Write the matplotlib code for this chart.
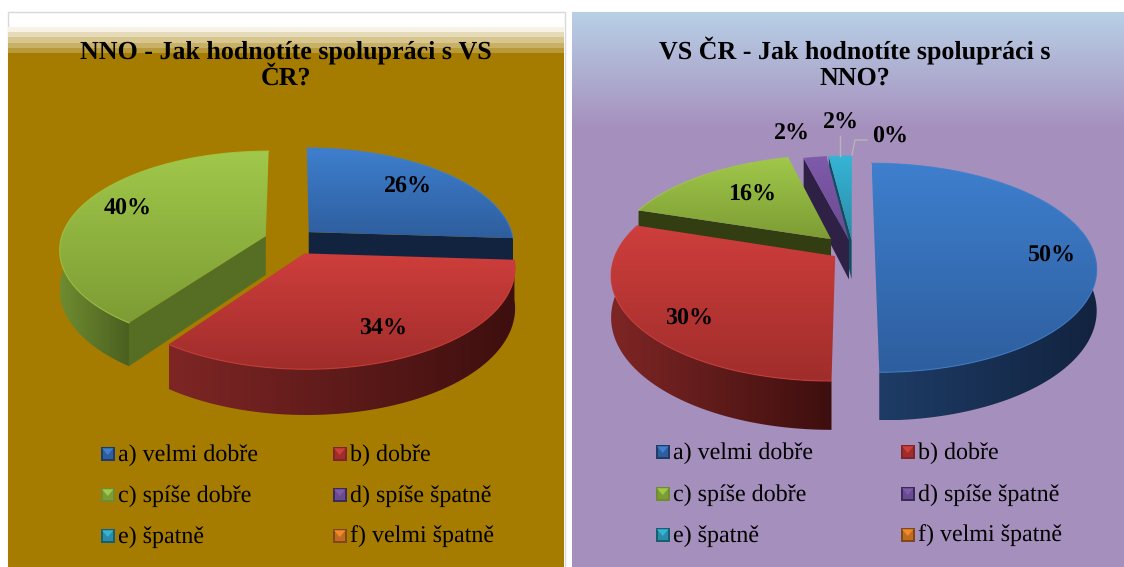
import numpy as np
import matplotlib
matplotlib.use("Agg")
from matplotlib import pyplot as plt
from matplotlib.colors import to_rgb
from matplotlib.patches import Polygon, Rectangle

plt.rcParams['font.family'] = ['Liberation Serif', 'DejaVu Serif']
plt.rcParams['text.hinting'] = 'none'
plt.rcParams['text.hinting_factor'] = 1

categories = ['a) velmi dobře', 'b) dobře', 'c) spíše dobře', 'd) spíše špatně', 'e) špatně', 'f) velmi špatně']
values_nno = [26, 34, 40, 0, 0, 0]
values_vs = [50, 30, 16, 2, 2, 0]
title_nno = 'NNO - Jak hodnotíte spolupráci s VS\nČR?'
title_vs = 'VS ČR - Jak hodnotíte spolupráci s\nNNO?'

top_light = ['#3E7FCE', '#CE3E3C', '#A0C84A', '#7F5AAB', '#36B4D6', '#F08A2C']
top_dark = ['#2E5E9E', '#A02D2B', '#7D9C34', '#6A4A90', '#2A8CA8', '#C06C20']
wall_left = ['#1E3C66', '#7E2625', '#6F8C30', '#3A2A58', '#175E70', '#80481A']
wall_right = ['#12233F', '#3D0F0E', '#4A5F20', '#2A1E40', '#0F4A58', '#5A3010']
wall_cut = ['#12233F', '#3D0F0E', '#566E24', '#2E2145', '#0F4F5F', '#5A3010']
wall_cut_vs = ['#12233F', '#3D0F0E', '#333D12', '#2E2145', '#0F4F5F', '#5A3010']

gold = '#A67C00'
stripes = ['#F6F2E6', '#E5DBB8', '#D7C68F', '#C8B064', '#B99A3A']

fig = plt.figure(figsize=(11.24, 5.67), dpi=100, facecolor='white')
ax = fig.add_axes([0, 0, 1, 1])
ax.axis('off')


def project(u, v, z, cfg):
    w = 1 + cfg['p'] * v
    return cfg['cx'] + cfg['A'] * u / w, cfg['cy'] - cfg['B'] * v / w + cfg['D'] * z / w


def gradient_fill(pts, c1, c2, zorder, horizontal=False):
    x0, y0 = pts.min(axis=0)
    x1, y1 = pts.max(axis=0)
    t = np.linspace(0, 1, 128)
    col = np.outer(1 - t, to_rgb(c1)) + np.outer(t, to_rgb(c2))
    img = col[None, :, :] if horizontal else col[:, None, :]
    poly = Polygon(pts, closed=True, fc='none', ec='none', transform=ax.transData)
    ax.add_patch(poly)
    im = ax.imshow(img, extent=(x0, x1, y1, y0), aspect='auto', zorder=zorder, interpolation='bilinear')
    im.set_clip_path(poly)


def draw_pie(values, cfg, cut_cols):
    total = sum(values)
    starts = np.cumsum([0] + values[:-1]) / total * 2 * np.pi
    spans = np.array(values) / total * 2 * np.pi
    mids = starts + spans / 2
    # back wedges first
    order = sorted(range(len(values)), key=lambda i: -np.cos(mids[i]))
    z = 5
    for i in order:
        if values[i] == 0:
            continue
        t = np.linspace(starts[i], starts[i] + spans[i], 120)
        ex = cfg['explode'][i]
        ou, ov = ex * np.sin(mids[i]), ex * np.cos(mids[i])
        ax_x, ax_y = project(ou, ov, 0, cfg)
        bx, by = project(ou, ov, 1, cfg)
        u, v = ou + np.sin(t), ov + np.cos(t)
        tx, ty = project(u, v, 0, cfg)
        dx, dy = project(u, v, 1, cfg)
        # outer wall, front part of the arc only
        front = np.cos(t) < 0.2
        if front.sum() > 1:
            wall = np.column_stack([np.r_[tx[front], dx[front][::-1]], np.r_[ty[front], dy[front][::-1]]])
            gradient_fill(wall, wall_left[i], wall_right[i], z, horizontal=True)
        z += 1
        # cut faces, only the ones turned to the viewer
        if np.sin(t[0]) < -1e-6:
            ax.add_patch(Polygon([(ax_x, ax_y), (tx[0], ty[0]), (dx[0], dy[0]), (bx, by)],
                                 fc=cut_cols[i], ec='none', zorder=z))
        if np.sin(t[-1]) > 1e-6:
            ax.add_patch(Polygon([(ax_x, ax_y), (tx[-1], ty[-1]), (dx[-1], dy[-1]), (bx, by)],
                                 fc=cut_cols[i], ec='none', zorder=z))
        z += 1
        top = np.column_stack([np.r_[ax_x, tx], np.r_[ax_y, ty]])
        gradient_fill(top, top_light[i], top_dark[i], z)
        ax.plot(tx, ty, color=top_light[i], lw=0.8, alpha=0.8, zorder=z)
        z += 1
    for i, val in enumerate(values):
        r = cfg['label_r'][i]
        if r is None:
            continue
        ex = cfg['explode'][i]
        ou, ov = ex * np.sin(mids[i]), ex * np.cos(mids[i])
        lx, ly = project(ou + r * np.sin(mids[i]), ov + r * np.cos(mids[i]), 0, cfg)
        lx += cfg['label_dx'][i]
        ly += cfg['label_dy'][i]
        ax.text(lx, ly, f'{val}%', ha='center', va='center', fontsize=17.5, fontweight='bold', color='black', zorder=100)
    return starts, spans, mids


def draw_legend(col_x, row_y):
    for i, name in enumerate(categories):
        mx, my = col_x[i % 2], row_y[i // 2]
        s = 13.5
        ax.add_patch(Rectangle((mx, my - s / 2), s, s, fc=wall_left[i], ec='none', zorder=20))
        ax.add_patch(Rectangle((mx + 1.5, my - s / 2 + 1.5), s - 3, s - 3, fc=top_dark[i], ec='none', zorder=21))
        ax.add_patch(Polygon([(mx + 1, my - s / 2 + 1), (mx + s - 1, my - s / 2 + 1), (mx + s / 2, my + 1)],
                             fc=top_light[i], ec='none', zorder=22))
        ax.text(mx + s + 3.5, my + 1, name, ha='left', va='center', fontsize=17.3, color='black', zorder=23)


# left panel
ax.add_patch(Rectangle((7.5, 11.5), 557, 556, fc='white', ec='#D9D9D9', lw=1, zorder=1))
ax.add_patch(Rectangle((8, 53), 556, 514, fc=gold, ec='none', zorder=2))
for k, c in enumerate(stripes):
    ax.add_patch(Rectangle((8, 27 + 5.2 * k), 556, 5.2, fc=c, ec='none', zorder=2))
ax.text(286, 65, title_nno, ha='center', va='center', fontsize=19, fontweight='bold',
        linespacing=1.15, zorder=30)

# right panel
t = np.linspace(0, 1, 128)
bg = np.outer(1 - t, to_rgb('#B8D0E6')) + np.outer(t, to_rgb('#A58FBD'))
ax.imshow(bg[:, None, :], extent=(572, 1124, 130, 12), aspect='auto', zorder=1)
ax.add_patch(Rectangle((572, 130), 552, 437, fc='#A58FBD', ec='none', zorder=1))
ax.text(855, 63, title_vs, ha='center', va='center', fontsize=19, fontweight='bold',
        linespacing=1.15, zorder=30)

cfg_nno = dict(cx=291, cy=240, A=205, B=97, D=39, p=0.13, explode=[0.12, 0.15, 0.13, 0, 0, 0],
               label_r=[0.65, 0.78, 0.7, None, None, None],
               label_dx=[9, 1, -7, 0, 0, 0], label_dy=[-5, -3, -7, 0, 0, 0])
cfg_vs = dict(cx=853, cy=250, A=218, B=101.5, D=40, p=0.17, explode=[0.1, 0.1, 0.15, 0.1, 0.1, 0.1],
              label_r=[0.8, 0.78, 0.7, 1.3, 1.5, 1.25],
              label_dx=[2, 6, 14, -15, 5, 37], label_dy=[6, 11, 2, -3, 0, -2])

draw_pie(values_nno, cfg_nno, wall_cut)
starts, spans, mids = draw_pie(values_vs, cfg_vs, wall_cut_vs)

# leader lines for the small slices
ou, ov = 0.1 * np.sin(mids[4]), 0.1 * np.cos(mids[4])
lx, ly = project(ou + np.sin(mids[4]), ov + np.cos(mids[4]), 0, cfg_vs)
ax.plot([lx, lx], [ly, ly - 20], color='#B5B5B5', lw=1, zorder=50)
ax.plot([867, 855, 852], [140, 140, 155], color='#B5B5B5', lw=1, zorder=50)

draw_legend([101, 333], [454, 495, 536])
draw_legend([656, 901], [452, 494, 535])

ax.set_xlim(0, 1124)
ax.set_ylim(567, 0)
fig.savefig('out.png', dpi=100, facecolor='white')
